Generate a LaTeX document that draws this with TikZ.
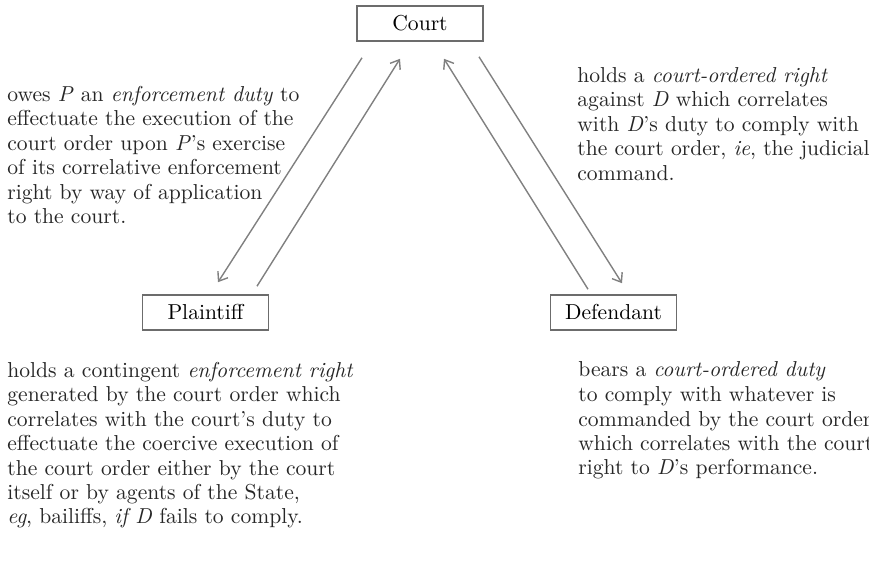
\documentclass[tikz,border=0pt]{standalone}
\usepackage{tikz}
\usetikzlibrary{arrows.meta, positioning, calc}
\begin{document}
\begin{tikzpicture}[x=0.5pt, y=0.5pt,
    party/.style={draw=gray!85!black, line width=0.8pt, minimum width=63pt, minimum height=17.5pt, inner sep=0pt, font=\fontsize{10.8}{12.25}\selectfont},
    note/.style={align=left, anchor=base west, inner sep=0pt, font=\fontsize{10.8}{12.25}\selectfont, text=black!85},
    rel/.style={draw=gray, line width=0.7pt, -{Straight Barb[length=4pt, width=6pt]}}]
      \useasboundingbox (0,0) rectangle (869,-572);

      \node[party] at (420,-23.5) (court) {Court};
      \node[party] at (205.5,-312.5) (plaintiff) {Plaintiff};
      \node[party] at (613.5,-312.5) (defendant) {Defendant};

      % notes are placed by the baseline of their last line
      \node[note] at (7,-224) (courtduty) {owes \textit{P} an \textit{enforcement duty} to\\
        effectuate the execution of the\\
        court order upon \textit{P}'s exercise\\
        of its correlative enforcement\\
        right by way of application\\
        to the court.};
      \node[note] at (577,-180.5) (courtright) {holds a \textit{court-ordered right}\\
        against \textit{D} which correlates\\
        with \textit{D}'s duty to comply with\\
        the court order, \textit{ie}, the judicial\\
        command.};
      \node[note] at (7,-524) (plaintiffright) {holds a contingent \textit{enforcement right}\\
        generated by the court order which\\
        correlates with the court's duty to\\
        effectuate the coercive execution of\\
        the court order either by the court\\
        itself or by agents of the State,\\
        \textit{eg}, bailiffs, \textit{if D} fails to comply.};
      \node[note] at (578,-475) (defendantduty) {bears a \textit{court-ordered duty}\\
        to comply with whatever is\\
        commanded by the court order\\
        which correlates with the court's\\
        right to \textit{D}'s performance.};

      \draw[rel] ([shift={(-58,-16)}]court.south) -- ([shift={(12.5,12)}]plaintiff.north);
      \draw[rel] ([shift={(51.5,8)}]plaintiff.north) -- ([shift={(-20,-17)}]court.south);
      \draw[rel] ([shift={(-25.5,5)}]defendant.north) -- ([shift={(24,-17)}]court.south);
      \draw[rel] ([shift={(59,-15)}]court.south) -- ([shift={(8.5,11)}]defendant.north);
    \end{tikzpicture}
\end{document}
